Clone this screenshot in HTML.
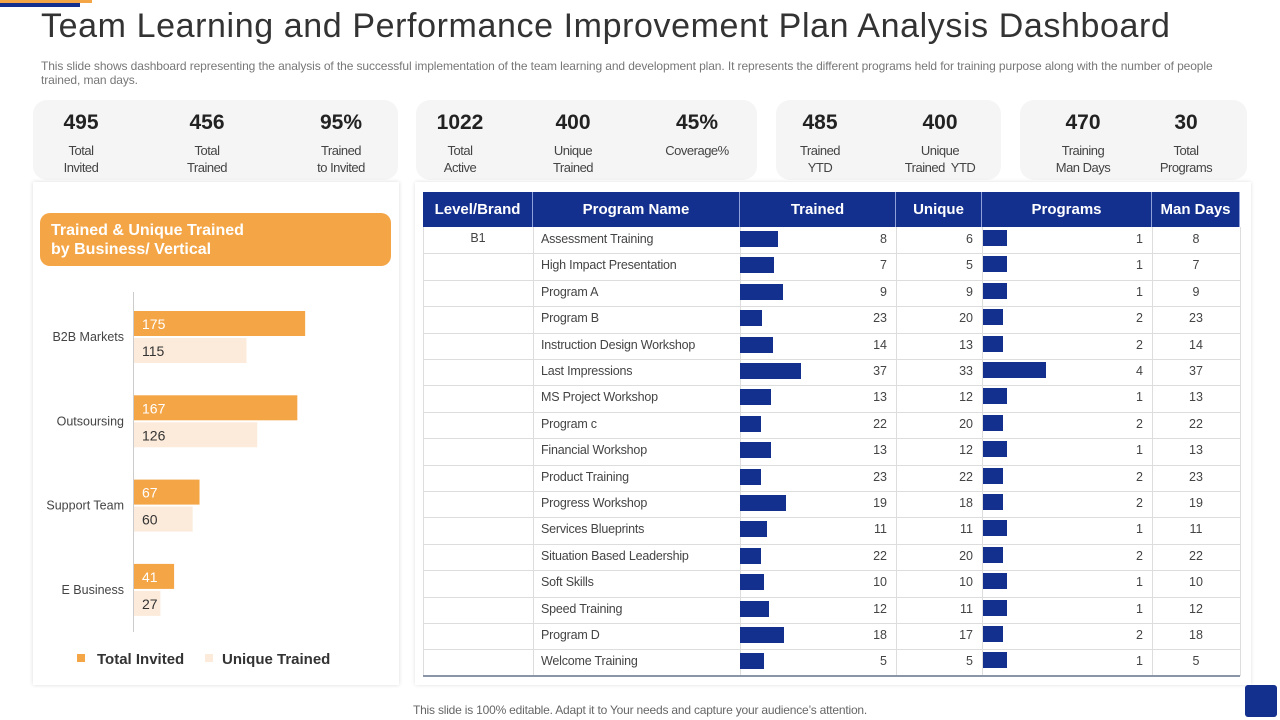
<!DOCTYPE html>
<html><head><meta charset="utf-8">
<style>
*{margin:0;padding:0;box-sizing:border-box}
body{width:1280px;height:720px;background:#fff;font-family:"Liberation Sans",sans-serif;position:relative;overflow:hidden;color:#333}
.abs{position:absolute}
.card{position:absolute;background:#f5f5f5;border-radius:14px;top:100px;height:80px}
.kn{position:absolute;top:111px;font-size:21px;font-weight:bold;color:#222;text-align:center;width:100px;margin-left:-50px}
.kl{position:absolute;top:143px;font-size:13px;color:#444;text-align:center;width:120px;margin-left:-60px;line-height:16.5px;letter-spacing:-0.5px}
.th{position:absolute;top:192px;height:35px;background:#14308f;color:#fff;font-weight:bold;font-size:15px;text-align:center;line-height:35px;border-right:1px solid #8fa0d8}
</style></head><body>
<div class="abs" style="left:0;top:0;width:80px;height:7px;background:#14308f"></div>
<div class="abs" style="left:0;top:0;width:92px;height:3px;background:#f4a545"></div>
<div class="abs" style="left:41px;top:7px;font-size:34px;color:#333;letter-spacing:0.6px">Team Learning and Performance Improvement Plan Analysis Dashboard</div>
<div class="abs" style="left:41px;top:59px;width:1205px;font-size:12px;color:#777;line-height:14px;letter-spacing:-0.1px">This slide shows dashboard representing the analysis of the successful implementation of the team learning and development plan. It represents the different programs held for training purpose along with the number of people trained, man days.</div>

<div class="card" style="left:33px;width:365px"></div>
<div class="card" style="left:416px;width:341px"></div>
<div class="card" style="left:776px;width:225px"></div>
<div class="card" style="left:1020px;width:227px"></div>
<div id="kpis"></div>

<div class="abs" style="left:33px;top:182px;width:366px;height:503px;background:#fff;box-shadow:0 0 4px rgba(0,0,0,0.15)"></div>
<div class="abs" style="left:40px;top:213px;width:351px;height:53px;background:#f4a545;border-radius:10px;color:#fff;font-weight:bold;font-size:16px;line-height:19px;padding:8px 11px">Trained &amp; Unique Trained<br>by Business/ Vertical</div>
<svg class="abs" id="chart" style="left:0;top:0" width="400" height="720"></svg>

<div class="abs" style="left:415px;top:182px;width:836px;height:503px;background:#fff;box-shadow:0 0 4px rgba(0,0,0,0.12)"></div>
<div id="table"></div>

<div class="abs" style="left:0;width:1280px;top:703px;text-align:center;font-size:12px;color:#666;letter-spacing:-0.2px">This slide is 100% editable. Adapt it to Your needs and capture your audience’s attention.</div>
<div class="abs" style="left:1245px;top:685px;width:32px;height:32px;background:#14308f;border-radius:3px"></div>

<script>
const kpiValues=["495","456","95%","1022","400","45%","485","400","470","30"];
const kpiLabels=["Total<br>Invited","Total<br>Trained","Trained<br>to Invited","Total<br>Active","Unique<br>Trained","Coverage%","Trained<br>YTD","Unique<br>Trained&nbsp; YTD","Training<br>Man Days","Total<br>Programs"];
const kpiX=[81,207,341,460,573,697,820,940,1083,1186];
const kpiEl=document.getElementById('kpis');
kpiValues.forEach((v,i)=>{
  const n=document.createElement('div');n.className='kn';n.style.left=kpiX[i]+'px';n.textContent=v;
  
  
  kpiEl.appendChild(n);
  const l=document.createElement('div');l.className='kl';l.style.left=kpiX[i]+'px';l.innerHTML=kpiLabels[i];
  
  
  kpiEl.appendChild(l);
});

const categories=["B2B Markets","Outsoursing","Support Team","E Business"];
const totalInvited=[175,167,67,41];
const uniqueTrained=[115,126,60,27];
const NS="http://www.w3.org/2000/svg";
const svg=document.getElementById('chart');
const x0=134, pxPer=0.978;
const xs=v=>v*pxPer;
const ys=i=>311+i*84.3;
function mk(t,a){const e=document.createElementNS(NS,t);for(const k in a)e.setAttribute(k,a[k]);svg.appendChild(e);return e;}
const ax=mk('line',{x1:133.5,x2:133.5,y1:292,y2:632,stroke:'#ccc','stroke-width':1});


categories.forEach((c,i)=>{
  const y=ys(i);
  const b1=mk('rect',{x:x0,y:y,width:xs(totalInvited[i]),height:25,fill:'#f4a545'});
  
  
  const b2=mk('rect',{x:x0,y:y+27,width:xs(uniqueTrained[i]),height:25,fill:'#fcebdb'});
  
  
  const t1=mk('text',{x:x0+8,y:y+18,fill:'#fff','font-size':14});t1.textContent=totalInvited[i];
  
  
  const t2=mk('text',{x:x0+8,y:y+45,fill:'#333','font-size':14});t2.textContent=uniqueTrained[i];
  
  
  const lb=mk('text',{x:124,y:y+30,fill:'#444','font-size':12.5,'text-anchor':'end'});lb.textContent=c;
  
  
});
const lg1=mk('rect',{x:77,y:654,width:8,height:8,fill:'#f4a545'});


const lt1=mk('text',{x:97,y:664,fill:'#333','font-size':15,'font-weight':'bold'});lt1.textContent='Total Invited';


const lg2=mk('rect',{x:205,y:654,width:8,height:8,fill:'#fcebdb'});


const lt2=mk('text',{x:222,y:664,fill:'#333','font-size':15,'font-weight':'bold'});lt2.textContent='Unique Trained';



const programs=["Assessment Training","High Impact Presentation","Program A","Program B","Instruction Design Workshop","Last Impressions","MS Project Workshop","Program c","Financial Workshop","Product Training","Progress Workshop","Services Blueprints","Situation Based Leadership","Soft Skills","Speed Training","Program D","Welcome Training"];
const trained=[8,7,9,23,14,37,13,22,13,23,19,11,22,10,12,18,5];
const unique=[6,5,9,20,13,33,12,20,12,22,18,11,20,10,11,17,5];
const programCount=[1,1,1,2,2,4,1,2,1,2,2,1,2,1,1,2,1];
const manDays=[8,7,9,23,14,37,13,22,13,23,19,11,22,10,12,18,5];
const trainedIndicator=[38,34,43,22,33,61,31,21,31,21,46,27,21,24,29,44,24];
const programIndicator=[24,24,24,20,20,63,24,20,24,20,20,24,20,24,24,20,24];
const tb=document.getElementById('table');
const cols=[423,533,740,896,982,1152,1240];
const heads=["Level/Brand","Program Name","Trained","Unique","Programs","Man Days"];
heads.forEach((h,i)=>{
  const d=document.createElement('div');d.className='th';
  d.style.left=cols[i]+'px';d.style.width=(cols[i+1]-cols[i])+'px';d.textContent=h;
  
  
  tb.appendChild(d);
});
const rh=26.4, ry=i=>227+i*rh;
function div(css,txt,name){const d=document.createElement('div');d.style.cssText='position:absolute;'+css;if(txt!==undefined)d.textContent=txt;
  
  
  tb.appendChild(d);return d;}
cols.forEach((c,i)=>{div(`left:${c}px;top:227px;width:1px;height:${rh*17}px;background:#ddd`,undefined,'column-rule');});
programs.forEach((p,i)=>{
  const y=ry(i);
  div(`left:423px;top:${y+rh}px;width:817px;height:1px;background:#ddd`,undefined,'row-rule');
  div(`left:541px;top:${y+5}px;font-size:12.5px;color:#444;letter-spacing:-0.2px`,p,'program-name');
  div(`left:740px;top:${y+4}px;width:${trainedIndicator[i]}px;height:16px;background:#14308f`,undefined,'trained-bar');
  div(`left:760px;top:${y+5}px;width:127px;text-align:right;font-size:12.5px;color:#444`,trained[i],'trained-value');
  div(`left:900px;top:${y+5}px;width:73px;text-align:right;font-size:12.5px;color:#444`,unique[i],'unique-value');
  div(`left:983px;top:${y+3}px;width:${programIndicator[i]}px;height:16px;background:#14308f`,undefined,'programs-bar');
  div(`left:1010px;top:${y+5}px;width:133px;text-align:right;font-size:12.5px;color:#444`,programCount[i],'programs-value');
  div(`left:1152px;top:${y+5}px;width:88px;text-align:center;font-size:12.5px;color:#444`,manDays[i],'man-days-value');
});
div(`left:423px;top:231px;width:110px;text-align:center;font-size:12.5px;color:#444`,'B1','level-brand-value');
div(`left:423px;top:${227+17*rh-1}px;width:817px;height:2px;background:#8a96a8`,undefined,'table-bottom-rule');
</script>
</body></html>
